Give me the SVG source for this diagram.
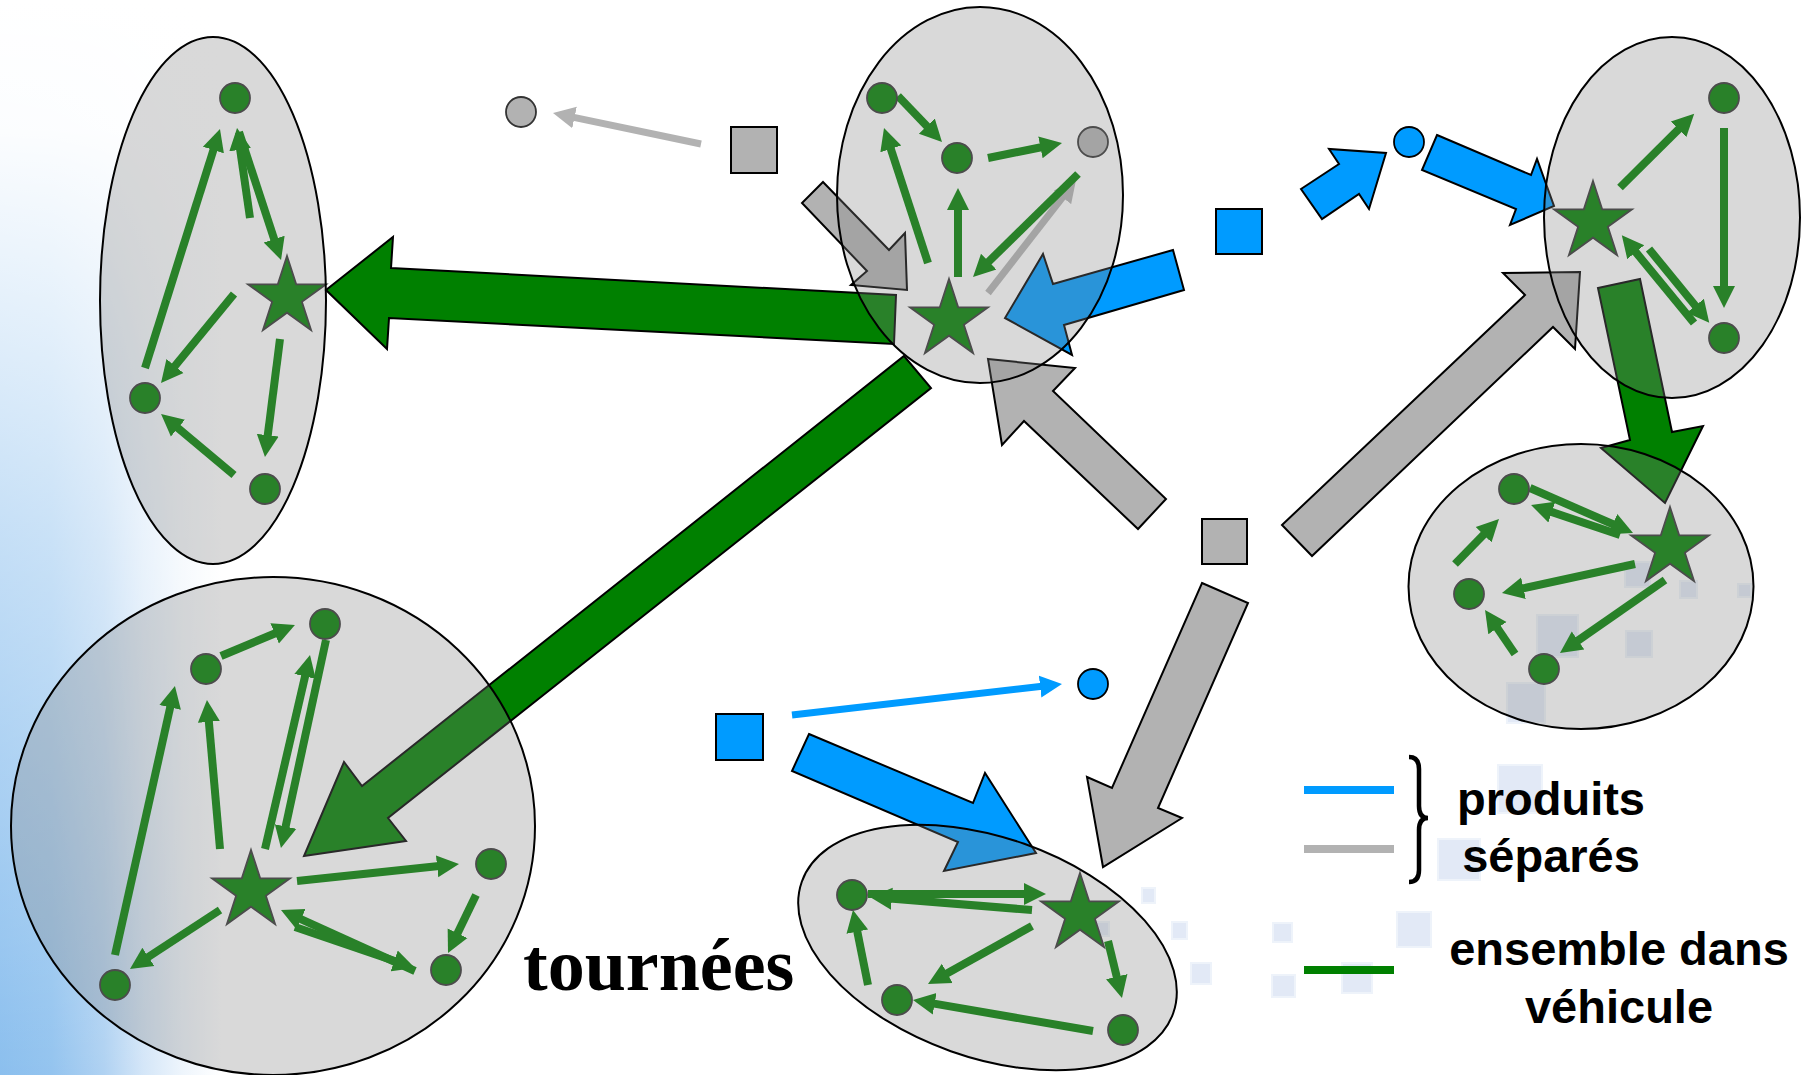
<svg xmlns="http://www.w3.org/2000/svg" xmlns:xlink="http://www.w3.org/1999/xlink" width="1810" height="1075" viewBox="0 0 1810 1075">
<style>
.zone{fill:#848484;fill-opacity:0.31;stroke:#000;stroke-width:2}
.blk{stroke:#000;stroke-width:2;stroke-linejoin:miter}
.g{fill:#008000}.gr{fill:#b2b2b2}.bl{fill:#009bff}
.node{fill:#008000;stroke:#333;stroke-width:1.8}
.gl{stroke:#008000;stroke-width:8;fill:none;marker-end:url(#mg)}
.grl{stroke:#b2b2b2;stroke-width:7;fill:none;marker-end:url(#mgr)}
.bll{stroke:#009bff;stroke-width:7;fill:none;marker-end:url(#mbl)}
.ghost{fill:#e2e9f6;stroke:#eef3fa;stroke-width:2}
.lg{font-family:"Liberation Sans",Arial,sans-serif;font-weight:bold;font-size:47px;fill:#000;text-anchor:middle}
</style>
<defs>
<linearGradient id="hg" x1="0" y1="0" x2="260" y2="0" gradientUnits="userSpaceOnUse">
<stop offset="0" stop-color="#8bbfee"/>
<stop offset="0.2" stop-color="#94c4ef"/>
<stop offset="0.4" stop-color="#b0d2f2"/>
<stop offset="0.55" stop-color="#d4e6f8"/>
<stop offset="0.7" stop-color="#eef5fc"/>
<stop offset="0.85" stop-color="#ffffff"/>
</linearGradient>
<linearGradient id="vg" x1="0" y1="0" x2="0" y2="1075" gradientUnits="userSpaceOnUse">
<stop offset="0" stop-color="#fff" stop-opacity="1"/>
<stop offset="0.12" stop-color="#fff" stop-opacity="0.97"/>
<stop offset="0.5" stop-color="#fff" stop-opacity="0.5"/>
<stop offset="1" stop-color="#fff" stop-opacity="0"/>
</linearGradient>
<marker id="mg" markerUnits="userSpaceOnUse" markerWidth="24" markerHeight="24" viewBox="0 -12 24 24" refX="2" refY="0" orient="auto"><path d="M0,-11 L22,0 L0,11 Z" fill="#008000"/></marker>
<marker id="mgr" markerUnits="userSpaceOnUse" markerWidth="24" markerHeight="24" viewBox="0 -12 24 24" refX="2" refY="0" orient="auto"><path d="M0,-11 L22,0 L0,11 Z" fill="#b2b2b2"/></marker>
<marker id="mbl" markerUnits="userSpaceOnUse" markerWidth="24" markerHeight="24" viewBox="0 -12 24 24" refX="2" refY="0" orient="auto"><path d="M0,-11 L22,0 L0,11 Z" fill="#009bff"/></marker>
<path id="star" d="M0,-41 L9.2,-12.67 L38.99,-12.67 L14.89,4.84 L24.1,33.17 L0,15.66 L-24.1,33.17 L-14.89,4.84 L-38.99,-12.67 L-9.2,-12.67 Z" class="node"/>
</defs>

<rect width="1810" height="1075" fill="#fff"/>
<rect x="0" y="0" width="260" height="1075" fill="url(#hg)"/>
<rect x="0" y="0" width="260" height="1075" fill="url(#vg)"/>

<g id="ghost-squares">
  <rect class="ghost" x="1625" y="562" width="25" height="25"/>
  <rect class="ghost" x="1537" y="615" width="41" height="42"/>
  <rect class="ghost" x="1626" y="631" width="26" height="26"/>
  <rect class="ghost" x="1507" y="683" width="38" height="40"/>
  <rect class="ghost" x="1680" y="581" width="17" height="17"/>
  <rect class="ghost" x="1738" y="584" width="13" height="13"/>
  <rect class="ghost" x="1498" y="765" width="44" height="48"/>
  <rect class="ghost" x="1438" y="839" width="42" height="41"/>
  <rect class="ghost" x="1397" y="912" width="34" height="35"/>
  <rect class="ghost" x="1273" y="923" width="19" height="19"/>
  <rect class="ghost" x="1142" y="888" width="13" height="15"/>
  <rect class="ghost" x="1172" y="922" width="15" height="17"/>
  <rect class="ghost" x="1191" y="963" width="20" height="21"/>
  <rect class="ghost" x="1272" y="975" width="23" height="22"/>
  <rect class="ghost" x="1342" y="963" width="30" height="30"/>
  <rect class="ghost" x="1094" y="922" width="15" height="14"/>
</g>

<g id="connectors">
  <polygon class="blk g" points="326,290 393,237 391,268 896,295 894,344 389,318 387,349"/>
  <polygon class="blk g" points="904,356 931,388 388,818 406,841 304,856 344,762 362,786"/>
  <polygon class="blk g" points="1598,288 1640,279 1672,432 1703,426 1665,503 1601,448 1630,440"/>
  <polygon class="blk gr" points="823,182 889,250 905,233 907,290 851,285 867,271 802,203"/>
  <polygon class="blk gr" points="988,359 1075,368 1053,391 1166,499 1138,529 1024,421 1002,445"/>
  <polygon class="blk gr" points="1282,525 1525,295 1503,273 1580,272 1575,349 1553,327 1312,556"/>
  <polygon class="blk gr" points="1202,583 1248,603 1158,808 1182,818 1103,867 1087,777 1112,788"/>
  <polygon class="blk bl" points="1301,189 1339,164 1329,149 1386,153 1369,209 1359,194 1322,219"/>
  <polygon class="blk bl" points="1437,135 1531,175 1537,159 1554,206 1510,225 1516,209 1422,170"/>
  <polygon class="blk bl" points="1173,250 1184,290 1064,325 1072,355 1005,318 1043,254 1053,284"/>
  <polygon class="blk bl" points="809,734 973,803 985,773 1036,853 944,871 958,842 792,771"/>
  <line class="grl" x1="701" y1="144" x2="572.6" y2="117.1"/>
  <line class="bll" x1="792" y1="715" x2="1042.1" y2="686.3"/>
  <!-- left zone -->
  <line class="gl" x1="145" y1="368" x2="214" y2="148.1"/>
  <line class="gl" x1="250" y1="218" x2="239.9" y2="147.8"/>
  <line class="gl" x1="239" y1="132" x2="274.8" y2="241"/>
  <line class="gl" x1="234" y1="294" x2="173.7" y2="367.5"/>
  <line class="gl" x1="280" y1="339" x2="267.5" y2="437.2"/>
  <line class="gl" x1="234" y1="475" x2="176.4" y2="426.8"/>
  <!-- middle zone -->
  <line class="grl" x1="988" y1="293" x2="1063.7" y2="195.8"/>
  <line class="gl" x1="898" y1="96" x2="928.2" y2="127.6"/>
  <line class="gl" x1="988" y1="158" x2="1042.4" y2="147"/>
  <line class="gl" x1="1078" y1="174" x2="987.3" y2="263"/>
  <line class="gl" x1="958" y1="277" x2="958" y2="208"/>
  <line class="gl" x1="928" y1="263" x2="890.2" y2="147"/>
  <!-- top right zone -->
  <line class="gl" x1="1620" y1="187.5" x2="1680" y2="127.9"/>
  <line class="gl" x1="1724" y1="128" x2="1724" y2="288"/>
  <line class="gl" x1="1694" y1="323" x2="1634.5" y2="250.6"/>
  <line class="gl" x1="1649" y1="249" x2="1696.6" y2="307.3"/>
  <!-- bottom right zone -->
  <line class="gl" x1="1530" y1="488" x2="1614.7" y2="525"/>
  <line class="gl" x1="1620" y1="535" x2="1550" y2="511.4"/>
  <line class="gl" x1="1455" y1="564" x2="1485" y2="533.3"/>
  <line class="gl" x1="1635" y1="564" x2="1521.5" y2="588.7"/>
  <line class="gl" x1="1665" y1="580" x2="1576.4" y2="641.6"/>
  <line class="gl" x1="1515" y1="654" x2="1496.3" y2="626.5"/>
  <!-- big zone -->
  <line class="gl" x1="221" y1="656" x2="276.5" y2="632.7"/>
  <line class="gl" x1="115" y1="955" x2="170.6" y2="705.5"/>
  <line class="gl" x1="220" y1="849" x2="208.7" y2="719.9"/>
  <line class="gl" x1="265" y1="849" x2="305.5" y2="674.5"/>
  <line class="gl" x1="326" y1="640" x2="285.2" y2="828.5"/>
  <line class="gl" x1="297" y1="881" x2="439.1" y2="866.1"/>
  <line class="gl" x1="476" y1="895" x2="456.7" y2="935"/>
  <line class="gl" x1="415" y1="971" x2="299.2" y2="918.3"/>
  <line class="gl" x1="295" y1="927" x2="396.1" y2="961.5"/>
  <line class="gl" x1="220" y1="910" x2="146.7" y2="958"/>
  <!-- bottom zone -->
  <line class="gl" x1="868" y1="894" x2="1026" y2="894"/>
  <line class="gl" x1="1032" y1="910" x2="889.9" y2="898.6"/>
  <line class="gl" x1="1032" y1="926" x2="945.5" y2="974.3"/>
  <line class="gl" x1="868" y1="985" x2="856.9" y2="929.6"/>
  <line class="gl" x1="1108" y1="941" x2="1117.2" y2="978.6"/>
  <line class="gl" x1="1093" y1="1031" x2="932.7" y2="1003.4"/>
</g>

<g id="sources">
  <rect class="blk gr" x="731" y="127" width="46" height="46"/>
  <rect class="blk bl" x="1216" y="209" width="46" height="45"/>
  <rect class="blk gr" x="1202" y="519" width="45" height="45"/>
  <rect class="blk bl" x="716" y="714" width="47" height="46"/>
  <circle cx="521" cy="112" r="15" fill="#b2b2b2" stroke="#333" stroke-width="1.8"/>
  <circle cx="1409" cy="142" r="15" fill="#009bff" stroke="#000" stroke-width="1.8"/>
  <circle cx="1093" cy="684" r="15" fill="#009bff" stroke="#000" stroke-width="1.8"/>
</g>

<g id="zone-left">
  <circle class="node" cx="235" cy="98" r="15"/>
  <circle class="node" cx="145" cy="398" r="15"/>
  <circle class="node" cx="265" cy="489" r="15"/>
  <use xlink:href="#star" x="287" y="297"/>
  <ellipse class="zone" cx="213" cy="300.5" rx="113" ry="263.5"/>
</g>
<g id="zone-middle">
  <circle class="node" cx="882" cy="98" r="15"/>
  <circle class="node" cx="957" cy="158" r="15"/>
  <circle cx="1093" cy="142" r="15" fill="#b2b2b2" stroke="#333" stroke-width="1.8"/>
  <use xlink:href="#star" x="949" y="320"/>
  <ellipse class="zone" cx="980" cy="195" rx="143" ry="188"/>
</g>
<g id="zone-topright">
  <circle class="node" cx="1724" cy="98" r="15"/>
  <circle class="node" cx="1724" cy="338" r="15"/>
  <use xlink:href="#star" x="1593" y="222"/>
  <ellipse class="zone" cx="1672" cy="217.5" rx="128" ry="180.5"/>
</g>
<g id="zone-bottomright">
  <circle class="node" cx="1514" cy="489" r="15"/>
  <circle class="node" cx="1469" cy="594" r="15"/>
  <circle class="node" cx="1544" cy="669" r="15"/>
  <use xlink:href="#star" x="1670" y="548"/>
  <ellipse class="zone" cx="1581" cy="586.5" rx="172.5" ry="142.5"/>
</g>
<g id="zone-big">
  <circle class="node" cx="325" cy="624" r="15"/>
  <circle class="node" cx="206" cy="669" r="15"/>
  <circle class="node" cx="491" cy="864" r="15"/>
  <circle class="node" cx="446" cy="970" r="15"/>
  <circle class="node" cx="115" cy="985" r="15"/>
  <use xlink:href="#star" x="251" y="891"/>
  <ellipse class="zone" cx="273" cy="826" rx="262" ry="249"/>
</g>
<g id="zone-bottom">
  <circle class="node" cx="852" cy="895" r="15"/>
  <circle class="node" cx="897" cy="1000" r="15"/>
  <circle class="node" cx="1123" cy="1030" r="15"/>
  <use xlink:href="#star" x="1080" y="914"/>
  <ellipse class="zone" cx="987.5" cy="947.5" rx="197" ry="110" transform="rotate(19.5 987.5 947.5)"/>
</g>

<g id="label-tournees">
  <text x="523" y="990" font-family="'Liberation Serif','Times New Roman',serif" font-weight="bold" font-size="74" fill="#000">tournées</text>
</g>

<g id="legend">
  <line x1="1304" y1="790" x2="1394" y2="790" stroke="#009bff" stroke-width="8"/>
  <line x1="1304" y1="849" x2="1394" y2="849" stroke="#b2b2b2" stroke-width="8"/>
  <line x1="1304" y1="970" x2="1394" y2="970" stroke="#008000" stroke-width="8"/>
  <path d="M1409,757 Q1419,757 1419,769 L1419,806 Q1419,818 1428,818 Q1419,818 1419,830 L1419,870 Q1419,882 1409,882" fill="none" stroke="#000" stroke-width="4.5"/>
  <text class="lg" x="1551" y="815">produits</text>
  <text class="lg" x="1551" y="872">séparés</text>
  <text class="lg" x="1619" y="965">ensemble dans</text>
  <text class="lg" x="1619" y="1023">véhicule</text>
</g>
</svg>
